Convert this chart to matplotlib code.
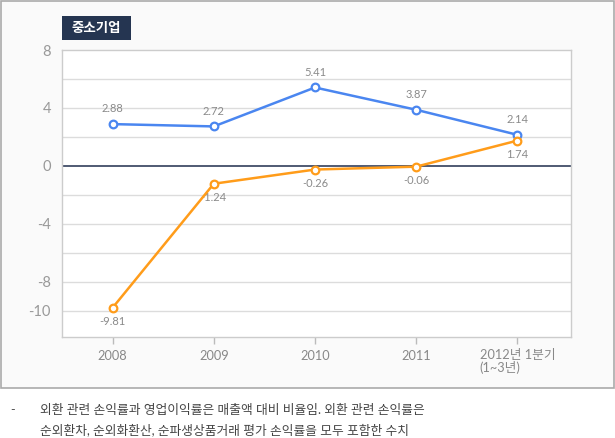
import matplotlib.pyplot as plt
from matplotlib.patches import Rectangle

plt.rcParams['font.family'] = ['Lato', 'Noto Sans CJK KR', 'DejaVu Sans']

# data
years = ['2008', '2009', '2010', '2011', '2012년 1분기\n(1~3년)']
fx_rate = [2.88, 2.72, 5.41, 3.87, 2.14]
op_rate = [-9.81, -1.24, -0.26, -0.06, 1.74]
yticks = [8, 4, 0, -4, -8, -10]
grid_lines = [6, 4, 2, -2, -4, -6, -8, -10]

blue = '#4a86f0'
orange = '#ff9c1a'
label_gray = '#8a8a8a'

fig = plt.figure(figsize=(6.15, 4.38), dpi=100)
fig.patch.set_facecolor('white')

# outer panel
fig.patches.append(Rectangle((1 / 615, 50 / 438), 612.5 / 615, 386.5 / 438,
                             transform=fig.transFigure, facecolor='#fafafa',
                             edgecolor='#aaaaaa', linewidth=1.2, zorder=-5))
# title badge
fig.patches.append(Rectangle((62 / 615, 1 - 40 / 438), 69 / 615, 24 / 438,
                             transform=fig.transFigure, facecolor='#253551',
                             edgecolor='none', zorder=-4))
fig.text(96.5 / 615, 1 - 28 / 438, '중소기업', ha='center', va='center',
         fontsize=9.7, fontweight='bold', color='white')

ax = fig.add_axes([62 / 615, 101 / 438, 509 / 615, 287 / 438])
ax.set_facecolor('white')
for s in ax.spines.values():
    s.set_color('#cccccc')
    s.set_linewidth(1)

x = list(range(len(years)))
for g in grid_lines:
    ax.axhline(g, color='#dcdcdc', lw=1, zorder=1)
ax.axhline(0, color='#1f2d4d', lw=1.1, zorder=2)

ax.plot(x, fx_rate, color=blue, lw=1.8, marker='o', ms=5.5, mfc='white',
        mec=blue, mew=1.6, zorder=4)
ax.plot(x, op_rate, color=orange, lw=1.8, marker='o', ms=5.5, mfc='white',
        mec=orange, mew=1.6, zorder=4)

for i, v in enumerate(fx_rate):
    ax.annotate(f'{v:.2f}', (i, v), xytext=(0, 7), textcoords='offset points',
                ha='center', va='bottom', fontsize=8, color=label_gray)
for i, v in enumerate(op_rate):
    ax.annotate(f'{v:.2f}', (i, v), xytext=(0, -6), textcoords='offset points',
                ha='center', va='top', fontsize=8, color=label_gray)

ax.set_xlim(-0.5, 4.53)
ax.set_ylim(-11.83, 8)
ax.set_yticks(yticks)
ax.set_yticklabels([str(t) for t in yticks])
ax.tick_params(axis='y', length=0, pad=8, labelsize=10.5, labelcolor='#999999')
ax.set_xticks(x)
ax.set_xticklabels(years, multialignment='left', linespacing=0.95)
ax.tick_params(axis='x', length=5, width=1, color='#bbbbbb', pad=4,
               labelsize=9.2, labelcolor='#888888')

# footnote
fig.text(10 / 615, 1 - 410 / 438, '-', fontsize=9, color='#555555',
         va='center')
fig.text(40 / 615, 1 - 410 / 438,
         '외환 관련 손익률과 영업이익률은 매출액 대비 비율임. 외환 관련 손익률은',
         fontsize=9.2, color='#444444', va='center')
fig.text(40 / 615, 1 - 430 / 438,
         '순외환차, 순외화환산, 순파생상품거래 평가 손익률을 모두 포함한 수치',
         fontsize=9.2, color='#444444', va='center')

fig.savefig('out.png', dpi=100)
